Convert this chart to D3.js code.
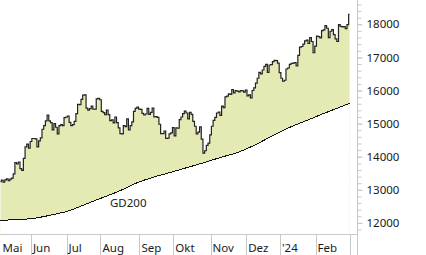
<!DOCTYPE html>
<html>
<head>
<meta charset="utf-8">
<style>
body { margin: 0; background: #fff; }
text { font-family: "Noto Sans", sans-serif; font-size: 11.5px; fill: #1a1a1a; }
</style>
</head>
<body>
<svg id="chart" width="426" height="255"></svg>
<script src="https://d3js.org/d3.v7.min.js"></script>
<script>

// daily closes, one array per month (May 2023 .. 1 Mar 2024)
const closesMai = [13250, 13290, 13230, 13300, 13330, 13280, 13320, 13350, 13480, 13820, 13780, 13840, 13640, 13590, 13950, 14300, 14380, 14260];
const closesJun = [14460, 14550, 14550, 14540, 14300, 14480, 14570, 14830, 14940, 15080, 15260, 15080, 15030, 14810, 15000, 14890, 14690, 14940, 14970, 14940, 15180];
const closesJul = [15200, 15230, 15040, 14940, 14970, 15070, 15300, 15580, 15570, 15730, 15860, 15870, 15470, 15410, 15450, 15530, 15440, 15440, 15750, 15760];
const closesAug = [15720, 15370, 15330, 15270, 15410, 15270, 15090, 15110, 15020, 15200, 15030, 14870, 14700, 14690, 14940, 14910, 15140, 14810, 14940, 15050, 15370, 15460, 15500];
const closesSep = [15440, 15430, 15310, 15260, 15290, 15460, 15280, 15340, 15470, 15200, 15210, 15190, 14980, 14700, 14700, 14770, 14550, 14560, 14690, 14720];
const closesOkt = [14880, 14630, 14870, 14860, 15120, 15200, 15300, 15380, 15320, 15140, 15340, 15280, 15070, 14920, 14690, 14740, 14900, 14530, 14110, 14180, 14340, 14410];
const closesNov = [14660, 14920, 15100, 15190, 15320, 15350, 15250, 15530, 15480, 15810, 15830, 15900, 15880, 16030, 15930, 16000, 15980, 15960, 16000, 15990, 15950];
const closesDez = [16010, 15840, 15870, 15780, 16000, 16080, 16220, 16370, 16550, 16500, 16620, 16730, 16790, 16550, 16770, 16780, 16870, 16910, 16900, 16830];
const closesJan = [16540, 16370, 16280, 16310, 16650, 16680, 16790, 16820, 16830, 16840, 16740, 17060, 17310, 17330, 17400, 17500, 17520, 17420, 17600, 17480, 17140];
const closesFeb = [17340, 17640, 17630, 17590, 17810, 17830, 17960, 17880, 17600, 17790, 17840, 17690, 17560, 17480, 17990, 17940, 17920, 17930, 17870, 17990];
const closesMar = [18300];

const months = [closesMai, closesJun, closesJul, closesAug, closesSep, closesOkt, closesNov, closesDez, closesJan, closesFeb, closesMar];
const monthLabels = ["Mai", "Jun", "Jul", "Aug", "Sep", "Okt", "Nov", "Dez", "'24", "Feb", ""];

// 200 day average, read every 10 trading days
const gdDays = [0, 10, 20, 30, 40, 50, 60, 70, 80, 90, 100, 110, 120, 130, 140, 150, 160, 170, 180, 190, 200, 206];
const gdValues = [12080, 12100, 12140, 12240, 12360, 12560, 12760, 12960, 13200, 13380, 13520, 13670, 13820, 13980, 14130, 14350, 14620, 14870, 15080, 15290, 15490, 15610];

const majorTicks = [12000, 13000, 14000, 15000, 16000, 17000, 18000];
const minorTicks = d3.range(11800, 18800, 200);

const closes = months.flat();
const n = closes.length;

// where each month starts (day index)
let monthStarts = [];
let acc = 0;
months.forEach(m => { monthStarts.push(acc); acc += m.length; });

const W = 426, H = 255;
const axisX = 357.5, plotBottom = 234.5;

let svg = d3.select("#chart");

let x = d3.scaleLinear().domain([0, n - 1]).range([0.5, 349.5]);
let y = d3.scaleLinear().domain([11665, 18734]).range([234, 0]);

let plot = svg.append("g");
plot.append("clipPath").attr("id", "clip")
    .append("rect").attr("x", 0).attr("y", 0).attr("width", axisX).attr("height", plotBottom);
plot.attr("clip-path", "url(#clip)");

let priceData = closes.map((c, i) => ({ i: i, v: c }));
let gdData = gdDays.map((d, k) => ({ i: d, v: gdValues[k] }));

// yellow under the price, then white under the GD200
plot.append("path")
    .datum(priceData)
    .attr("fill", "#e5eab4")
    .attr("d", d3.area().curve(d3.curveStep).x(d => x(d.i)).y0(plotBottom).y1(d => y(d.v)));

plot.append("path")
    .datum(gdData)
    .attr("fill", "#fff")
    .attr("d", d3.area().curve(d3.curveMonotoneX).x(d => x(d.i)).y0(plotBottom + 1).y1(d => y(d.v)));

plot.append("path")
    .datum(gdData)
    .attr("fill", "none")
    .attr("stroke", "#111")
    .attr("stroke-width", 1)
    .attr("shape-rendering", "crispEdges")
    .attr("d", d3.line().curve(d3.curveMonotoneX).x(d => x(d.i)).y(d => y(d.v)));

plot.append("path")
    .datum(priceData)
    .attr("fill", "none")
    .attr("stroke", "#222")
    .attr("stroke-width", 1.2)
    .attr("d", d3.line().curve(d3.curveStep).x(d => x(d.i)).y(d => y(d.v)));

svg.append("text")
    .attr("x", 110)
    .attr("y", 206.5)
    .text("GD200");

// y axis on the right
svg.append("line")
    .attr("x1", axisX).attr("x2", axisX)
    .attr("y1", 0).attr("y2", H)
    .attr("stroke", "#c8c8c8");

let minorAxis = svg.append("g")
    .attr("transform", "translate(" + axisX + ",0)")
    .call(d3.axisRight(y).tickValues(minorTicks).tickSize(4).tickFormat(""));
let majorAxis = svg.append("g")
    .attr("transform", "translate(" + axisX + ",0)")
    .call(d3.axisRight(y).tickValues(majorTicks).tickSize(5).tickPadding(4).tickFormat(d3.format("d")));

[minorAxis, majorAxis].forEach(a => {
    a.select(".domain").remove();
    a.selectAll(".tick line").attr("stroke", "#c8c8c8");
    a.attr("font-family", null).attr("font-size", null);
});
majorAxis.selectAll(".tick text").attr("fill", "#1a1a1a");

// x axis band
svg.append("line")
    .attr("x1", 0).attr("x2", axisX)
    .attr("y1", plotBottom).attr("y2", plotBottom)
    .attr("stroke", "#c8c8c8");

let xAxis = svg.append("g");
xAxis.selectAll("line.sep")
    .data(monthStarts.slice(1))
    .join("line")
    .attr("class", "sep")
    .attr("x1", d => Math.round(x(d)) + 0.5)
    .attr("x2", d => Math.round(x(d)) + 0.5)
    .attr("y1", plotBottom)
    .attr("y2", H)
    .attr("stroke", "#c8c8c8");

xAxis.selectAll("text")
    .data(monthStarts)
    .join("text")
    .attr("x", d => Math.max(1, x(d) + 2))
    .attr("y", 252)
    .text((d, k) => monthLabels[k]);

</script>
</body>
</html>
